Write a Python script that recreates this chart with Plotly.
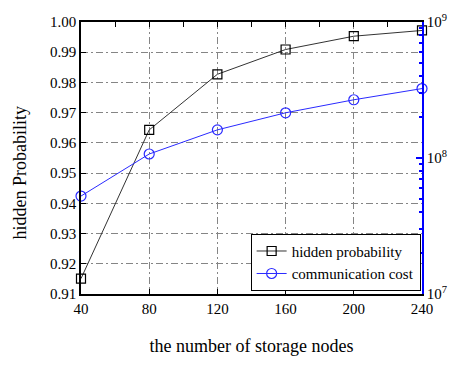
import plotly.graph_objects as go

# Data
nodes = [40, 80, 120, 160, 200, 240]
hidden_prob = [0.9151, 0.9643, 0.9827, 0.9909, 0.9953, 0.9972]
comm_cost = [5.25e7, 1.07e8, 1.61e8, 2.15e8, 2.68e8, 3.24e8]

x_ticks = [40, 80, 120, 160, 200, 240]
y_ticks = [0.91, 0.92, 0.93, 0.94, 0.95, 0.96, 0.97, 0.98, 0.99, 1.00]
y2_ticks = [1e7, 1e8, 1e9]
y2_labels = ["10<sup>7</sup>", "10<sup>8</sup>", "10<sup>9</sup>"]
y2_minor = [m * d for d in (1e7, 1e8) for m in range(2, 10)]

FONT = "Liberation Serif, Times New Roman, serif"
GRID = "#858585"
DASH = "7px,3px,2px,3px"

fig = go.Figure()

fig.add_trace(go.Scatter(
    x=nodes, y=hidden_prob, name="hidden probability",
    mode="lines+markers",
    line=dict(color="#333333", width=1),
    marker=dict(symbol="square-open", size=9, color="black", line=dict(width=1.2)),
    cliponaxis=False, xaxis="x", yaxis="y",
))

fig.add_trace(go.Scatter(
    x=nodes, y=comm_cost, name="communication cost",
    mode="lines+markers",
    line=dict(color="#2a2aff", width=1),
    marker=dict(symbol="circle-open", size=10, color="#2a2aff", line=dict(width=1.2)),
    cliponaxis=False, xaxis="x", yaxis="y2",
))

# helper trace so the top tick axis is drawn
fig.add_trace(go.Scatter(
    x=[40], y=[0.95], mode="markers", marker=dict(opacity=0),
    showlegend=False, hoverinfo="skip", xaxis="x2", yaxis="y",
))

fig.update_layout(
    width=459, height=365,
    margin=dict(l=81, r=26, t=12, b=67),
    paper_bgcolor="white", plot_bgcolor="white",
    font=dict(family=FONT, size=15, color="black"),
    showlegend=True,
    legend=dict(
        x=0.996, y=0.012, xanchor="right", yanchor="bottom",
        bgcolor="white", bordercolor="black", borderwidth=1,
        font=dict(family=FONT, size=15, color="black"),
        itemwidth=30, tracegroupgap=0,
    ),
    xaxis=dict(
        range=[40, 240], tickvals=x_ticks,
        showline=True, linecolor="black", linewidth=1.5,
        ticks="inside", ticklen=5, tickcolor="black",
        showgrid=True, gridcolor=GRID, griddash=DASH, gridwidth=1,
        zeroline=False,
        title=dict(text="the number of storage nodes", font=dict(family=FONT, size=18), standoff=24),
    ),
    xaxis2=dict(
        range=[40, 240], dtick=20, tick0=40, overlaying="x", side="top",
        showline=True, linecolor="black", linewidth=1.5,
        ticks="inside", ticklen=5, tickcolor="black",
        showticklabels=False, showgrid=False, zeroline=False,
    ),
    yaxis=dict(
        range=[0.91, 1.00], tickvals=y_ticks, tickformat=".2f",
        showline=True, linecolor="black", linewidth=1.5,
        ticks="inside", ticklen=5, tickcolor="black",
        showgrid=True, gridcolor=GRID, griddash=DASH, gridwidth=1,
        zeroline=False,
    ),
    yaxis2=dict(
        type="log", range=[7, 9], overlaying="y", side="right",
        tickvals=y2_ticks, ticktext=y2_labels,
        showline=True, linecolor="blue", linewidth=1.5,
        ticks="inside", ticklen=6, tickcolor="blue", tickwidth=1.5,
        minor=dict(tickvals=y2_minor, ticks="inside", ticklen=3, tickcolor="blue", tickwidth=1.5, showgrid=False),
        showgrid=False, zeroline=False,
        tickfont=dict(family=FONT, size=15),
    ),
    annotations=[dict(
        text="hidden Probability", textangle=-90,
        xref="paper", yref="paper", x=-0.178, y=0.448,
        xanchor="center", yanchor="middle", showarrow=False,
        font=dict(family=FONT, size=18, color="black"),
    )],
)

fig.write_html("out.html")
